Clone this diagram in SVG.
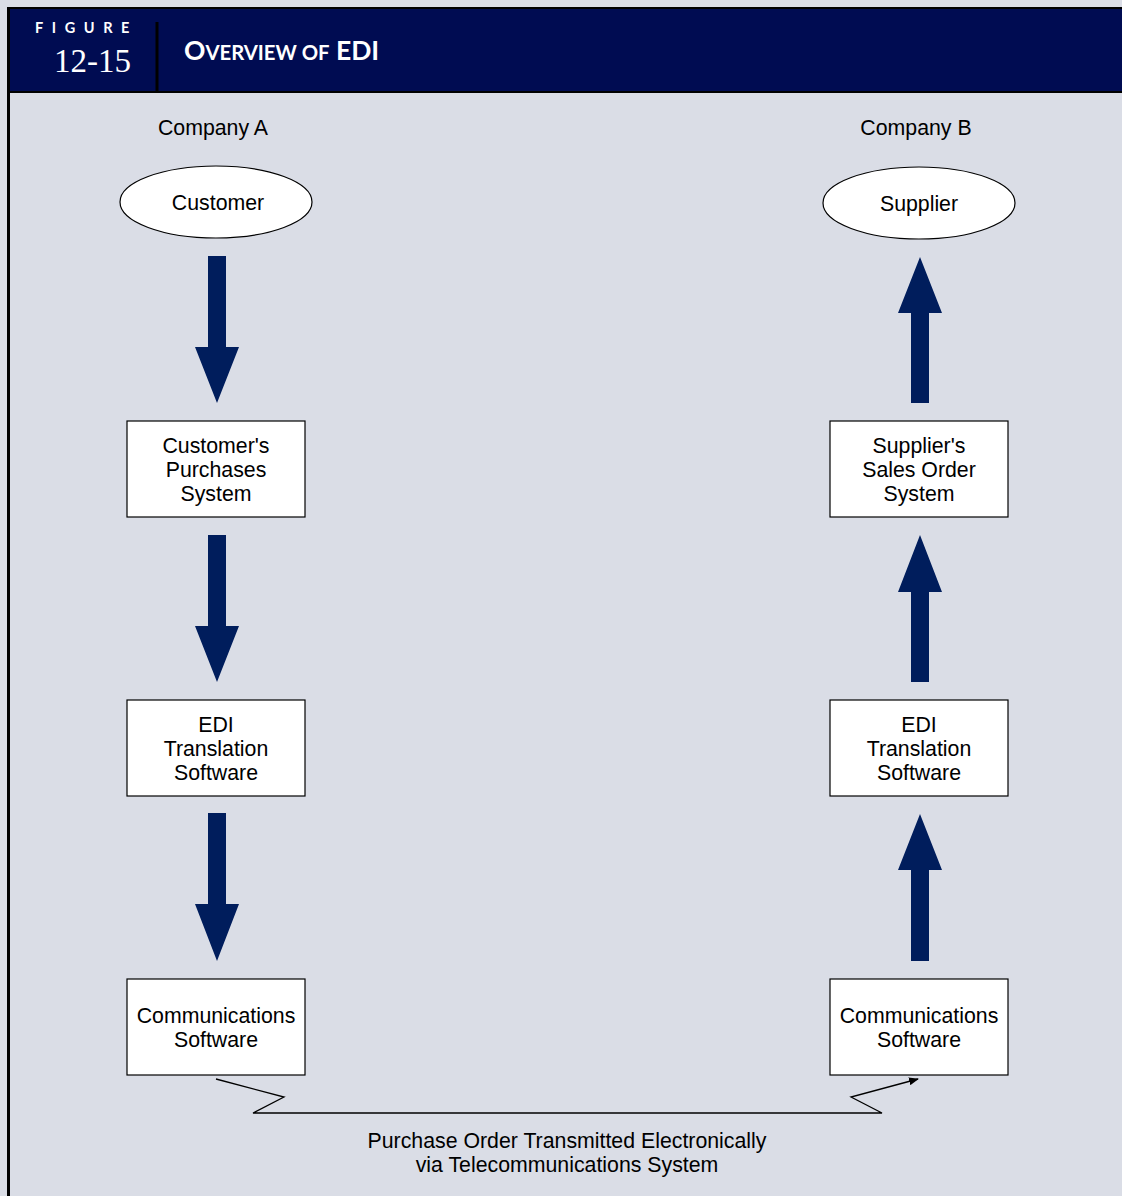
<svg xmlns="http://www.w3.org/2000/svg" width="1122" height="1196" viewBox="0 0 1122 1196">
<style>
.bg{fill:#dadde6}
.box{fill:#ffffff;stroke:#000;stroke-width:1.2}
.t{font-family:"Liberation Sans",Arial,sans-serif;font-size:21.3px;fill:#000;text-anchor:middle}
.arr{fill:#001d5c}
.hd{font-family:Lato,"Liberation Sans",sans-serif;font-weight:bold;fill:#fff}
</style>
<defs>
<marker id="ah" markerWidth="10" markerHeight="8" refX="9" refY="4" orient="auto" markerUnits="userSpaceOnUse">
<path d="M0,0 L10,4 L0,8 Z" fill="#000"/>
</marker>
</defs>
<rect class="bg" x="0" y="0" width="1122" height="1196"/>
<g id="header">
<rect x="8" y="7" width="1114" height="85" fill="#000c52"/>
<line x1="8" y1="8" x2="1122" y2="8" stroke="#000" stroke-width="2"/>
<line x1="8" y1="92" x2="1122" y2="92" stroke="#000" stroke-width="2"/>
<line x1="157" y1="22" x2="157" y2="92" stroke="#000" stroke-width="3"/>
<text class="hd" x="35" y="33" font-size="14.5" letter-spacing="8.6">FIGURE</text>
<text x="131" y="72" font-family="'Liberation Serif','Times New Roman',serif" font-size="33" fill="#fff" text-anchor="end">12-15</text>
<text class="hd" x="184" y="60" font-size="26.5">O<tspan font-size="20.3">VERVIEW OF</tspan> EDI</text>
</g>
<line x1="8.5" y1="7" x2="8.5" y2="1196" stroke="#000" stroke-width="3"/>
<text class="t" x="213" y="135">Company A</text>
<text class="t" x="916" y="135">Company B</text>
<g id="customer">
<ellipse cx="216" cy="202" rx="96" ry="36" class="box"/>
<text class="t" x="218" y="210">Customer</text>
</g>
<g id="supplier">
<ellipse cx="919" cy="203" rx="96" ry="36" class="box"/>
<text class="t" x="919" y="211">Supplier</text>
</g>
<g id="cust-purchases">
<rect x="127" y="421" width="178" height="96" class="box"/>
<text class="t" x="216" y="453">Customer's</text>
<text class="t" x="216" y="477">Purchases</text>
<text class="t" x="216" y="501">System</text>
</g>
<g id="cust-edi">
<rect x="127" y="700" width="178" height="96" class="box"/>
<text class="t" x="216" y="732">EDI</text>
<text class="t" x="216" y="756">Translation</text>
<text class="t" x="216" y="780">Software</text>
</g>
<g id="cust-comm">
<rect x="127" y="979" width="178" height="96" class="box"/>
<text class="t" x="216" y="1023">Communications</text>
<text class="t" x="216" y="1047">Software</text>
</g>
<g id="supp-sales">
<rect x="830" y="421" width="178" height="96" class="box"/>
<text class="t" x="919" y="453">Supplier's</text>
<text class="t" x="919" y="477">Sales Order</text>
<text class="t" x="919" y="501">System</text>
</g>
<g id="supp-edi">
<rect x="830" y="700" width="178" height="96" class="box"/>
<text class="t" x="919" y="732">EDI</text>
<text class="t" x="919" y="756">Translation</text>
<text class="t" x="919" y="780">Software</text>
</g>
<g id="supp-comm">
<rect x="830" y="979" width="178" height="96" class="box"/>
<text class="t" x="919" y="1023">Communications</text>
<text class="t" x="919" y="1047">Software</text>
</g>
<g id="connectors">
<path class="arr" d="M208,256 H226 V347 H239 L217,403 L195,347 H208 Z"/>
<path class="arr" d="M208,535 H226 V626 H239 L217,682 L195,626 H208 Z"/>
<path class="arr" d="M208,813 H226 V904 H239 L217,961 L195,904 H208 Z"/>
<path class="arr" d="M911,403 H929 V313 H942 L920,257 L898,313 H911 Z"/>
<path class="arr" d="M911,682 H929 V592 H942 L920,535 L898,592 H911 Z"/>
<path class="arr" d="M911,961 H929 V870 H942 L920,814 L898,870 H911 Z"/>
<polyline points="216,1079 284,1097 253,1113 882,1113 851,1097 918,1079" fill="none" stroke="#000" stroke-width="1.3" marker-end="url(#ah)"/>
</g>
<text class="t" x="567" y="1148">Purchase Order Transmitted Electronically</text>
<text class="t" x="567" y="1172">via Telecommunications System</text>
</svg>
